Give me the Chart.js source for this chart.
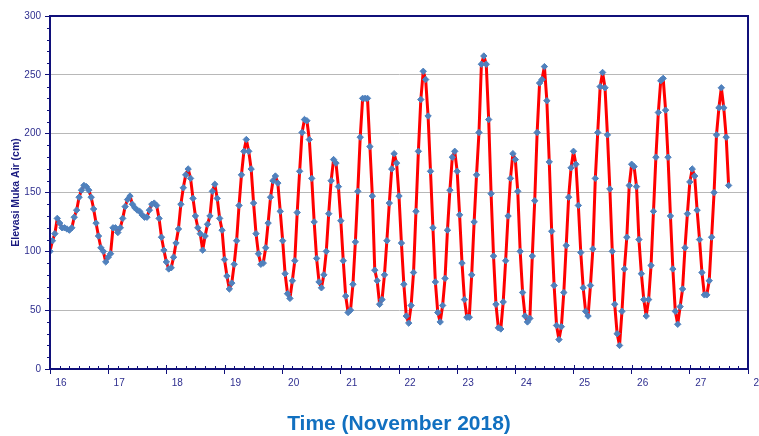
<!DOCTYPE html>
<html>
<head>
<meta charset="utf-8">
<script src="https://cdn.jsdelivr.net/npm/chart.js@4.4.1/dist/chart.umd.min.js"></script>
<style>
  html, body { margin: 0; padding: 0; background: #ffffff; }
  canvas { display: block; }
</style>
</head>
<body>
<canvas id="c" width="759" height="436"></canvas>
<script>
// Tick labels for the day axis (November 2018), one per 24 hours
const dayLabels = ['16','17','18','19','20','21','22','23','24','25','26','27','28'];

// Hourly water level elevation (cm), starting 16 Nov
const waterLevel = [
  100,109,115,128,124,120,120,119,118,120,129,135,146,152,156,155,152,146,136,124,113,103,100,91,
  95,98,120,120,116,120,128,138,144,147,140,137,135,134,131,129,129,135,140,141,139,128,112,101,
  91,85,86,95,107,119,140,154,165,170,162,145,130,120,115,101,113,123,130,151,157,145,128,118,
  93,79,68,73,89,109,139,165,185,195,185,170,141,115,98,89,90,103,124,146,160,164,158,134,
  109,81,64,60,75,92,133,168,201,212,211,195,162,125,94,74,69,80,100,132,160,178,175,155,
  126,92,62,48,50,72,108,151,197,230,230,230,189,147,84,75,55,59,80,109,141,170,183,175,
  147,107,72,45,39,54,82,134,185,229,253,246,215,168,120,74,48,40,54,77,118,152,180,185,
  168,131,90,59,44,44,80,125,165,201,259,266,259,212,149,96,55,35,34,57,92,130,162,183,
  178,151,100,65,45,40,43,96,143,201,243,246,257,228,176,117,71,37,25,36,65,105,146,171,
  185,174,139,99,69,49,45,71,102,162,201,240,252,239,199,153,100,55,30,20,49,85,112,156,
  174,172,155,110,81,59,45,59,88,134,180,218,245,247,220,180,130,85,49,38,53,68,103,132,
  159,170,164,135,110,82,63,63,75,112,150,199,222,239,222,197,156
];

const yTicks = [0, 50, 100, 150, 200, 250, 300];

const NAVY = '#10107a';
const TICK_TEXT = '#2e2e8f';
const FONT = "'Liberation Sans', Arial, sans-serif";

const points = waterLevel.map((v, i) => ({ x: i, y: v }));

const decorations = {
  id: 'decorations',
  afterDraw(chart) {
    const { ctx, chartArea: a, scales: { x, y } } = chart;
    ctx.save();
    ctx.strokeStyle = NAVY;
    ctx.lineWidth = 1;
    ctx.beginPath();
    // minor y ticks every 10 cm, outside
    for (let v = 0; v <= 300; v += 10) {
      if (v % 50 === 0) continue;
      const py = Math.round(y.getPixelForValue(v)) + 0.5;
      ctx.moveTo(a.left - 3, py);
      ctx.lineTo(a.left, py);
    }
    // minor x ticks every 4 hours, inside
    for (let h = 4; h < 288; h += 4) {
      if (h % 24 === 0) continue;
      const px = Math.round(x.getPixelForValue(h)) + 0.5;
      ctx.moveTo(px, a.bottom);
      ctx.lineTo(px, a.bottom - 3);
    }
    // major x ticks also inside
    for (let h = 0; h <= 288; h += 24) {
      const px = Math.round(x.getPixelForValue(h)) + 0.5;
      ctx.moveTo(px, a.bottom);
      ctx.lineTo(px, a.bottom - 4);
    }
    ctx.stroke();
    // plot frame
    ctx.lineWidth = 2;
    ctx.strokeRect(a.left, a.top, a.right - a.left, a.bottom - a.top);
    ctx.restore();
  }
};

new Chart(document.getElementById('c'), {
  type: 'line',
  data: {
    datasets: [{
      data: points,
      borderColor: '#ff0000',
      borderWidth: 3,
      borderJoinStyle: 'round',
      borderCapStyle: 'round',
      backgroundColor: '#4f81bd',
      pointBackgroundColor: '#4f81bd',
      pointBorderColor: '#4f81bd',
      pointBorderWidth: 1,
      pointStyle: 'rectRot',
      pointRadius: 3.2,
      tension: 0,
      fill: false
    }]
  },
  options: {
    responsive: false,
    animation: false,
    events: [],
    layout: { padding: { top: 16, right: 11, left: 0, bottom: 0 } },
    plugins: { legend: { display: false }, tooltip: { enabled: false } },
    scales: {
      x: {
        type: 'linear',
        min: 0,
        max: 288,
        afterFit(scale) {
          scale.height = 67;
          scale.paddingLeft = 0;
          scale.paddingRight = 0;
        },
        afterBuildTicks(scale) {
          scale.ticks = dayLabels.map((d, k) => ({ value: k * 24 }));
        },
        ticks: {
          autoSkip: false,
          maxRotation: 0,
          labelOffset: 11,
          padding: 3,
          color: TICK_TEXT,
          font: { family: FONT, size: 10 },
          callback: (v) => dayLabels[Math.round(v / 24)]
        },
        grid: {
          drawOnChartArea: false,
          drawTicks: true,
          tickLength: 5,
          tickColor: NAVY,
          tickWidth: 1
        },
        border: { color: NAVY, width: 2 },
        title: {
          display: true,
          text: 'Time (November 2018)',
          color: '#1170c0',
          font: { family: FONT, size: 21, weight: 'bold', lineHeight: 1 },
          padding: { top: 0, bottom: 1 }
        }
      },
      y: {
        min: 0,
        max: 300,
        afterFit(scale) {
          scale.width = 50;
          scale.paddingTop = 0;
          scale.paddingBottom = 0;
        },
        afterBuildTicks(scale) {
          scale.ticks = yTicks.map(v => ({ value: v }));
        },
        ticks: {
          padding: 4,
          color: TICK_TEXT,
          font: { family: FONT, size: 10 }
        },
        grid: {
          color: '#b8b8b8',
          lineWidth: 1,
          drawTicks: true,
          tickLength: 5,
          tickColor: NAVY
        },
        border: { color: NAVY, width: 2 },
        title: {
          display: true,
          text: 'Elevasi Muka Air (cm)',
          color: '#1a1a80',
          font: { family: FONT, size: 10.5, weight: 'bold', lineHeight: 1.2 },
          padding: { top: 10, bottom: 0 }
        }
      }
    }
  },
  plugins: [decorations]
});
</script>
</body>
</html>
